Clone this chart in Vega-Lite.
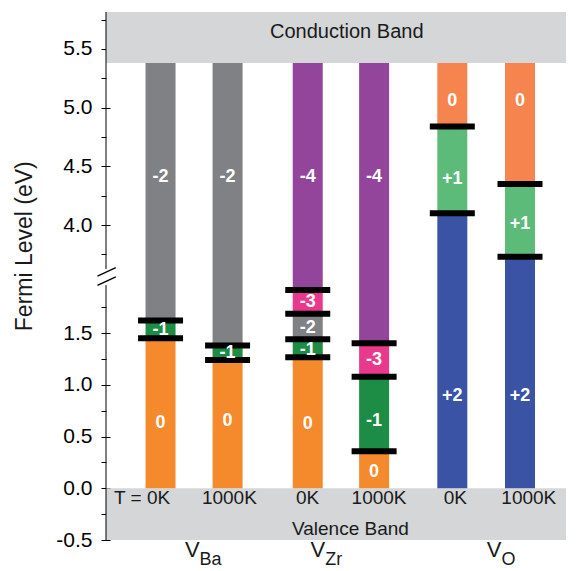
{
  "$schema": "https://vega.github.io/schema/vega-lite/v6.json",
  "padding": {"left": 13, "top": 11, "right": 0, "bottom": 0},
  "spacing": 0,
  "bounds": "flush",
  "config": {
    "view": {"stroke": null},
    "font": "Liberation Sans",
    "axis": {"labelFont": "Liberation Sans", "labelColor": "black", "tickColor": "black", "grid": false, "domain": false, "title": null}
  },
  "datasets": {
    "seg": [
      {"x": 0.83, "lo": 0, "hi": 1.45, "c": "o"},
      {"x": 0.83, "lo": 1.45, "hi": 1.62, "c": "g"},
      {"x": 0.83, "lo": 1.62, "hi": 5.38, "c": "gr"},
      {"x": 1.85, "lo": 0, "hi": 1.24, "c": "o"},
      {"x": 1.85, "lo": 1.24, "hi": 1.38, "c": "g"},
      {"x": 1.85, "lo": 1.38, "hi": 5.38, "c": "gr"},
      {"x": 3.07, "lo": 0, "hi": 1.267, "c": "o"},
      {"x": 3.07, "lo": 1.267, "hi": 1.44, "c": "g"},
      {"x": 3.07, "lo": 1.44, "hi": 1.686, "c": "gr"},
      {"x": 3.07, "lo": 1.686, "hi": 1.915, "c": "m"},
      {"x": 3.07, "lo": 1.915, "hi": 5.38, "c": "p"},
      {"x": 4.08, "lo": 0, "hi": 0.358, "c": "o"},
      {"x": 4.08, "lo": 0.358, "hi": 1.077, "c": "g"},
      {"x": 4.08, "lo": 1.077, "hi": 1.4, "c": "m"},
      {"x": 4.08, "lo": 1.4, "hi": 5.38, "c": "p"},
      {"x": 5.27, "lo": 0, "hi": 4.1, "c": "b"},
      {"x": 5.27, "lo": 4.1, "hi": 4.84, "c": "lg"},
      {"x": 5.27, "lo": 4.84, "hi": 5.38, "c": "lo"},
      {"x": 6.3, "lo": 0, "hi": 3.73, "c": "b"},
      {"x": 6.3, "lo": 3.73, "hi": 4.35, "c": "lg"},
      {"x": 6.3, "lo": 4.35, "hi": 5.38, "c": "lo"}
    ],
    "lev": [
      {"x": 0.83, "y": 1.45}, {"x": 0.83, "y": 1.62},
      {"x": 1.85, "y": 1.24}, {"x": 1.85, "y": 1.38},
      {"x": 3.07, "y": 1.267}, {"x": 3.07, "y": 1.44}, {"x": 3.07, "y": 1.686}, {"x": 3.07, "y": 1.915},
      {"x": 4.08, "y": 0.358}, {"x": 4.08, "y": 1.077}, {"x": 4.08, "y": 1.4},
      {"x": 5.27, "y": 4.1}, {"x": 5.27, "y": 4.84},
      {"x": 6.3, "y": 3.73}, {"x": 6.3, "y": 4.35}
    ],
    "lab": [
      {"x": 0.83, "y": 0.63, "t": "0"}, {"x": 0.83, "y": 1.53, "t": "-1"}, {"x": 0.83, "y": 4.41, "t": "-2"},
      {"x": 1.85, "y": 0.65, "t": "0"}, {"x": 1.85, "y": 1.31, "t": "-1"}, {"x": 1.85, "y": 4.41, "t": "-2"},
      {"x": 3.07, "y": 0.62, "t": "0"}, {"x": 3.07, "y": 1.34, "t": "-1"}, {"x": 3.07, "y": 1.55, "t": "-2"}, {"x": 3.07, "y": 1.8, "t": "-3"}, {"x": 3.07, "y": 4.41, "t": "-4"},
      {"x": 4.08, "y": 0.16, "t": "0"}, {"x": 4.08, "y": 0.65, "t": "-1"}, {"x": 4.08, "y": 1.24, "t": "-3"}, {"x": 4.08, "y": 4.41, "t": "-4"},
      {"x": 5.27, "y": 5.06, "t": "0"}, {"x": 5.27, "y": 4.39, "t": "+1"}, {"x": 5.27, "y": 0.89, "t": "+2"},
      {"x": 6.3, "y": 5.06, "t": "0"}, {"x": 6.3, "y": 4.01, "t": "+1"}, {"x": 6.3, "y": 0.89, "t": "+2"}
    ],
    "bands": [
      {"name": "Conduction Band", "lo": 5.38, "hi": 5.815, "tx": 3.664, "ty": 5.647},
      {"name": "Valence Band", "lo": -0.5, "hi": 0, "tx": 3.72, "ty": -0.39}
    ],
    "temps": [
      {"t": "T = 0K", "x": 0.55}, {"t": "1000K", "x": 1.877}, {"t": "0K", "x": 3.068},
      {"t": "1000K", "x": 4.155}, {"t": "0K", "x": 5.317}, {"t": "1000K", "x": 6.434}
    ],
    "groups": [
      {"g": "Ba", "x": 1.424}, {"g": "Zr", "x": 3.336}, {"g": "O", "x": 6.017}
    ],
    "axl": [
      {"p": "u", "lo": 3.626, "hi": 5.815},
      {"p": "l", "lo": -0.5, "hi": 1.963}
    ],
    "brk": [
      {"p": "u", "x": -0.13, "x2": 0.149, "y": 3.566, "y2": 3.637},
      {"p": "l", "x": -0.13, "x2": 0.149, "y": 1.96, "y2": 2.043}
    ],
    "ttl": [{"t": "Fermi Level (eV)", "x": -1.236, "y": 3.82}]
  },
  "vconcat": [
    {
      "width": 470,
      "height": 261,
      "resolve": {"axis": {"y": "independent"}},
      "layer": [
        {
          "data": {"name": "bands"},
          "mark": {"type": "rect", "color": "#d4d6d8", "clip": true},
          "encoding": {
            "x": {"datum": 0, "type": "quantitative", "scale": {"domain": [0, 7], "nice": false, "zero": false}, "axis": null},
            "x2": {"datum": 7},
            "y": {"field": "lo", "type": "quantitative", "scale": {"domain": [3.592, 5.815], "nice": false, "zero": false},
              "axis": {"orient": "left", "values": [4.0, 4.5, 5.0, 5.5], "tickSize": -9, "labelPadding": 18, "labelFontSize": 21, "labelExpr": "replace(format(datum.value, '.1f'), '\u2212', '-')"}},
            "y2": {"field": "hi"}
          }
        },
        {
          "data": {"name": "axl"},
          "transform": [{"filter": "datum.p === 'u'"}],
          "mark": {"type": "rule", "color": "black", "strokeWidth": 1},
          "encoding": {
            "x": {"datum": 0, "type": "quantitative", "axis": null},
            "y": {"field": "lo", "type": "quantitative",
              "axis": {"orient": "left", "values": [3.75, 4.25, 4.75, 5.25, 5.75], "tickSize": -5, "labels": false}},
            "y2": {"field": "hi"}
          }
        },
        {
          "data": {"name": "seg"},
          "transform": [{"filter": "datum.hi > 3.592"}],
          "mark": {"type": "bar", "width": 30, "clip": true},
          "encoding": {
            "x": {"field": "x", "type": "quantitative", "axis": null},
            "y": {"field": "lo", "type": "quantitative", "axis": null},
            "y2": {"field": "hi"},
            "color": {"field": "c", "type": "nominal", "legend": null,
              "scale": {"domain": ["o", "g", "gr", "m", "p", "b", "lg", "lo"], "range": ["#f48a2c", "#1d8c44", "#808184", "#e8398d", "#93459b", "#3a53a4", "#5cbb79", "#f5844e"]}}
          }
        },
        {
          "data": {"name": "lev"},
          "transform": [{"filter": "datum.y > 3.592"}],
          "mark": {"type": "tick", "orient": "horizontal", "size": 45, "thickness": 6, "color": "black", "opacity": 1, "clip": true},
          "encoding": {
            "x": {"field": "x", "type": "quantitative", "axis": null},
            "y": {"field": "y", "type": "quantitative", "axis": null}
          }
        },
        {
          "data": {"name": "lab"},
          "transform": [{"filter": "datum.y > 3.592"}],
          "mark": {"type": "text", "color": "white", "fontWeight": "bold", "fontSize": 18, "baseline": "middle"},
          "encoding": {
            "x": {"field": "x", "type": "quantitative", "axis": null},
            "y": {"field": "y", "type": "quantitative", "axis": null},
            "text": {"field": "t"}
          }
        },
        {
          "data": {"name": "bands"},
          "transform": [{"filter": "datum.ty > 3.592"}],
          "mark": {"type": "text", "color": "#1a1a1a", "fontSize": 20, "baseline": "middle"},
          "encoding": {
            "x": {"field": "tx", "type": "quantitative", "axis": null},
            "y": {"field": "ty", "type": "quantitative", "axis": null},
            "text": {"field": "name"}
          }
        },
        {
          "data": {"name": "brk"},
          "transform": [{"filter": "datum.p === 'u'"}],
          "mark": {"type": "rule", "color": "black", "strokeWidth": 1.3},
          "encoding": {
            "x": {"field": "x", "type": "quantitative", "axis": null},
            "x2": {"field": "x2"},
            "y": {"field": "y", "type": "quantitative", "axis": null},
            "y2": {"field": "y2"}
          }
        },
        {
          "data": {"name": "ttl"},
          "mark": {"type": "text", "angle": 270, "fontSize": 23, "color": "#1a1a1a", "baseline": "middle", "align": "center"},
          "encoding": {
            "x": {"field": "x", "type": "quantitative", "axis": null},
            "y": {"field": "y", "type": "quantitative", "axis": null},
            "text": {"field": "t"}
          }
        }
      ]
    },
    {
      "width": 470,
      "height": 267,
      "resolve": {"axis": {"y": "independent"}},
      "layer": [
        {
          "data": {"name": "bands"},
          "mark": {"type": "rect", "color": "#d4d6d8", "clip": true},
          "encoding": {
            "x": {"datum": 0, "type": "quantitative", "scale": {"domain": [0, 7], "nice": false, "zero": false}, "axis": null},
            "x2": {"datum": 7},
            "y": {"field": "lo", "type": "quantitative", "scale": {"domain": [-0.5, 2.08], "nice": false, "zero": false},
              "axis": {"orient": "left", "values": [-0.5, 0.0, 0.5, 1.0, 1.5], "tickSize": -9, "labelPadding": 18, "labelFontSize": 21, "labelExpr": "replace(format(datum.value, '.1f'), '\u2212', '-')"}},
            "y2": {"field": "hi"}
          }
        },
        {
          "data": {"name": "axl"},
          "transform": [{"filter": "datum.p === 'l'"}],
          "mark": {"type": "rule", "color": "black", "strokeWidth": 1},
          "encoding": {
            "x": {"datum": 0, "type": "quantitative", "axis": null},
            "y": {"field": "lo", "type": "quantitative",
              "axis": {"orient": "left", "values": [-0.25, 0.25, 0.75, 1.25, 1.75], "tickSize": -5, "labels": false}},
            "y2": {"field": "hi"}
          }
        },
        {
          "data": {"name": "seg"},
          "transform": [{"filter": "datum.lo < 2.08"}],
          "mark": {"type": "bar", "width": 30, "clip": true},
          "encoding": {
            "x": {"field": "x", "type": "quantitative", "axis": null},
            "y": {"field": "lo", "type": "quantitative", "axis": null},
            "y2": {"field": "hi"},
            "color": {"field": "c", "type": "nominal", "legend": null}
          }
        },
        {
          "data": {"name": "lev"},
          "transform": [{"filter": "datum.y < 2.08"}],
          "mark": {"type": "tick", "orient": "horizontal", "size": 45, "thickness": 6, "color": "black", "opacity": 1, "clip": true},
          "encoding": {
            "x": {"field": "x", "type": "quantitative", "axis": null},
            "y": {"field": "y", "type": "quantitative", "axis": null}
          }
        },
        {
          "data": {"name": "lab"},
          "transform": [{"filter": "datum.y < 2.08"}],
          "mark": {"type": "text", "color": "white", "fontWeight": "bold", "fontSize": 18, "baseline": "middle"},
          "encoding": {
            "x": {"field": "x", "type": "quantitative", "axis": null},
            "y": {"field": "y", "type": "quantitative", "axis": null},
            "text": {"field": "t"}
          }
        },
        {
          "data": {"name": "bands"},
          "transform": [{"filter": "datum.ty < 2.08"}],
          "mark": {"type": "text", "color": "#1a1a1a", "fontSize": 19, "baseline": "middle"},
          "encoding": {
            "x": {"field": "tx", "type": "quantitative", "axis": null},
            "y": {"field": "ty", "type": "quantitative", "axis": null},
            "text": {"field": "name"}
          }
        },
        {
          "data": {"name": "brk"},
          "transform": [{"filter": "datum.p === 'l'"}],
          "mark": {"type": "rule", "color": "black", "strokeWidth": 1.3},
          "encoding": {
            "x": {"field": "x", "type": "quantitative", "axis": null},
            "x2": {"field": "x2"},
            "y": {"field": "y", "type": "quantitative", "axis": null},
            "y2": {"field": "y2"}
          }
        },
        {
          "data": {"name": "temps"},
          "mark": {"type": "text", "color": "#1a1a1a", "fontSize": 19, "baseline": "middle"},
          "encoding": {
            "x": {"field": "x", "type": "quantitative", "axis": null},
            "y": {"datum": -0.097, "type": "quantitative", "axis": null},
            "text": {"field": "t"}
          }
        },
        {
          "data": {"name": "groups"},
          "mark": {"type": "text", "color": "#1a1a1a", "fontSize": 22, "baseline": "alphabetic", "align": "right"},
          "encoding": {
            "x": {"field": "x", "type": "quantitative", "axis": null},
            "y": {"datum": -0.665, "type": "quantitative", "axis": null},
            "text": {"value": "V"}
          }
        },
        {
          "data": {"name": "groups"},
          "mark": {"type": "text", "color": "#1a1a1a", "fontSize": 18, "baseline": "alphabetic", "align": "left", "dy": 8},
          "encoding": {
            "x": {"field": "x", "type": "quantitative", "axis": null},
            "y": {"datum": -0.665, "type": "quantitative", "axis": null},
            "text": {"field": "g"}
          }
        }
      ]
    }
  ]
}
